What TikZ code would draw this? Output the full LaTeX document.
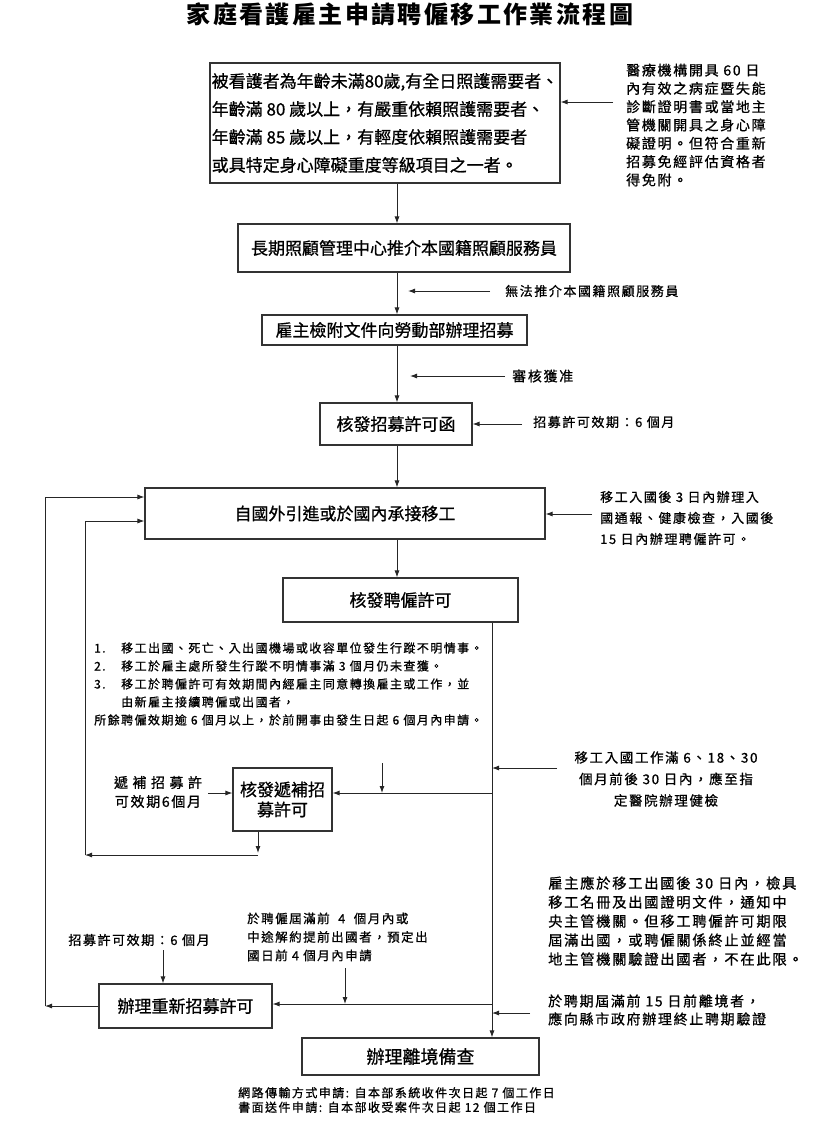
\documentclass[tikz,border=0pt]{standalone}
\usepackage{fontspec}
\setmainfont{Noto Sans CJK TC}[RawFeature={embolden=0.8}]
\newfontfamily\lsf[LetterSpace=12,RawFeature={embolden=0.8}]{Noto Sans CJK TC}
\newfontfamily\tf[LetterSpace=10]{Noto Sans CJK TC}
\usetikzlibrary{arrows.meta}
\begin{document}
\begin{tikzpicture}[x=1pt,y=-1pt,
 box/.style={draw=black!80,line width=1.1pt,inner sep=1pt,font=\fontsize{17}{20}\selectfont,align=center},
 arr/.style={-{Latex[length=7pt,width=5pt]},line width=0.9pt,draw=black!85},
 note/.style={inner sep=0pt,align=left}]
\fill[white] (0,0) rectangle (820,1122);
\useasboundingbox (0,0) rectangle (820,1122);

% title
\node[font=\tf\fontsize{24}{26}\selectfont\bfseries] (title) at (410,14) {家庭看護雇主申請聘僱移工作業流程圖};

% boxes
\node[box,minimum width=350,minimum height=120,align=left,font=\fontsize{17}{28}\selectfont] (b1) at (385,123)
 {被看護者為年齡未滿80歲,有全日照護需要者、\\年齡滿 80 歲以上，有嚴重依賴照護需要者、\\年齡滿 85 歲以上，有輕度依賴照護需要者\\或具特定身心障礙重度等級項目之一者。};
\node[box,minimum width=332,minimum height=48] (b2) at (404,248) {長期照顧管理中心推介本國籍照顧服務員};
\node[box,minimum width=265,minimum height=30] (b3) at (394.5,330) {雇主檢附文件向勞動部辦理招募};
\node[box,minimum width=152,minimum height=42] (b4) at (396,424) {核發招募許可函};
\node[box,minimum width=400,minimum height=51] (b5) at (345,513.5) {自國外引進或於國內承接移工};
\node[box,minimum width=235,minimum height=44] (b6) at (400.5,600) {核發聘僱許可};
\node[box,minimum width=99,minimum height=63] (bu) at (282.5,799.5) {核發遞補招\\募許可};
\node[box,minimum width=173,minimum height=44] (re) at (185.5,1006) {辦理重新招募許可};
\node[box,minimum width=237,minimum height=37,font=\fontsize{18}{20}\selectfont] (dep) at (420.5,1056.5) {辦理離境備查};

% notes
\node[note,anchor=west,font=\lsf\fontsize{14}{18.3}\selectfont] (n1) at (626,125)
 {醫療機構開具 60 日\\內有效之病症暨失能\\診斷證明書或當地主\\管機關開具之身心障\\礙證明。但符合重新\\招募免經評估資格者\\得免附。};
\node[note,anchor=west,font=\lsf\fontsize{13}{16}\selectfont] (n2) at (505,291) {無法推介本國籍照顧服務員};
\node[note,anchor=west,font=\lsf\fontsize{14}{16}\selectfont] (n3) at (512,376) {審核獲准};
\node[note,anchor=west,font=\lsf\fontsize{13}{16}\selectfont] (n4) at (533,422) {招募許可效期：6 個月};
\node[note,anchor=west,font=\lsf\fontsize{13}{21}\selectfont] (n5) at (600,518)
 {移工入國後 3 日內辦理入\\國通報、健康檢查，入國後\\15 日內辦理聘僱許可。};
\node[note,anchor=west,font=\lsf\fontsize{12}{18}\selectfont] (lst) at (94,684)
 {\makebox[27pt][l]{1.}移工出國、死亡、入出國機場或收容單位發生行蹤不明情事。\\
  \makebox[27pt][l]{2.}移工於雇主處所發生行蹤不明情事滿 3 個月仍未查獲。\\
  \makebox[27pt][l]{3.}移工於聘僱許可有效期間內經雇主同意轉換雇主或工作，並\\
  \hspace*{27pt}由新雇主接續聘僱或出國者，\\
  所餘聘僱效期逾 6 個月以上，於前開事由發生日起 6 個月內申請。};
\node[note,align=center,font=\lsf\fontsize{13.5}{21.5}\selectfont] (n7) at (666,779)
 {移工入國工作滿 6、18、30\\個月前後 30 日內，應至指\\定醫院辦理健檢};
\node[note,align=center,font=\lsf\fontsize{14}{19}\selectfont] (nu) at (158,792)
 {\makebox[88pt][s]{遞\hfill 補\hfill 招\hfill 募\hfill 許}\\可效期6個月};
\node[note,anchor=west,font=\lsf\fontsize{14.3}{19}\selectfont] (n8) at (548,921)
 {雇主應於移工出國後 30 日內，檢具\\移工名冊及出國證明文件，通知中\\央主管機關。但移工聘僱許可期限\\屆滿出國，或聘僱關係終止並經當\\地主管機關驗證出國者，不在此限。};
\node[note,anchor=west,font=\lsf\fontsize{14}{18}\selectfont] (n9) at (548,1010)
 {於聘期屆滿前 15 日前離境者，\\應向縣市政府辦理終止聘期驗證};
\node[note,anchor=west,font=\lsf\fontsize{12.5}{18.5}\selectfont] (n10) at (247,937)
 {於聘僱屆滿前\ \ 4\ \ 個月內或\\中途解約提前出國者，預定出\\國日前 4 個月內申請};
\node[note,font=\lsf\fontsize{13}{16}\selectfont] (n11) at (139,940) {招募許可效期：6 個月};
\node[note,anchor=west,font=\lsf\fontsize{12}{14.5}\selectfont] (ft) at (238,1100)
 {網路傳輸方式申請: 自本部系統收件次日起 7 個工作日\\書面送件申請: 自本部收受案件次日起 12 個工作日};

% coordinates
\coordinate (cx) at (397,0);
\coordinate (v) at (492,0);
\coordinate (n1a) at (613,102);
\coordinate (n2a) at (490,291);
\coordinate (n2b) at (408,291);
\coordinate (n3a) at (505,376);
\coordinate (n3b) at (410,376);
\coordinate (n4a) at (522,424);
\coordinate (n5a) at (592,514);
\coordinate (n7a) at (557,768);
\coordinate (h1) at (492,793);
\coordinate (d1) at (382,763);
\coordinate (nua) at (208,793);
\coordinate (b0) at (258,855);
\coordinate (i0) at (85,855);
\coordinate (i1) at (85,521);
\coordinate (h2) at (492,1004);
\coordinate (d2) at (345,968);
\coordinate (d3) at (163,950);
\coordinate (o1) at (45,497);
\coordinate (n9a) at (530,1013);

% main flow
\draw[arr] (b1.south -| cx) -- (b2.north -| cx);
\draw[arr] (b2.south -| cx) -- (b3.north -| cx);
\draw[arr] (b3.south -| cx) -- (b4.north -| cx);
\draw[arr] (b4.south -| cx) -- (b5.north -| cx);
\draw[arr] (b5.south -| cx) -- (b6.north -| cx);
\draw[arr] (b6.south -| v) -- (dep.north -| v);

% side arrows
\draw[arr] (n1a) -- (n1a -| b1.east);
\draw[arr] (n2a) -- (n2b);
\draw[arr] (n3a) -- (n3b);
\draw[arr] (n4a) -- (n4a -| b4.east);
\draw[arr] (n5a) -- (n5a -| b5.east);
\draw[arr] (n7a) -- (n7a -| v);
\draw[arr] (n9a) -- (n9a -| v);

% replacement recruitment
\draw[arr] (h1) -- (h1 -| bu.east);
\draw[arr] (d1) -- (d1 |- h1);
\draw[arr] (nua) -- (nua -| bu.west);
\draw[arr] (bu.south -| b0) -- ([yshift=2pt]b0);
\draw[arr] (b0) -- (i0);
\draw[arr] (i0) -- (i1) -- (i1 -| b5.west);

% re-recruitment
\draw[arr] (h2) -- (h2 -| re.east);
\draw[arr] (d2) -- (d2 |- h2);
\draw[arr] (d3) -- (d3 |- re.north);
\draw[arr] (re.west) -- (re.west -| o1);
\draw[arr] (re.west -| o1) -- (o1) -- (o1 -| b5.west);
\end{tikzpicture}
\end{document}
